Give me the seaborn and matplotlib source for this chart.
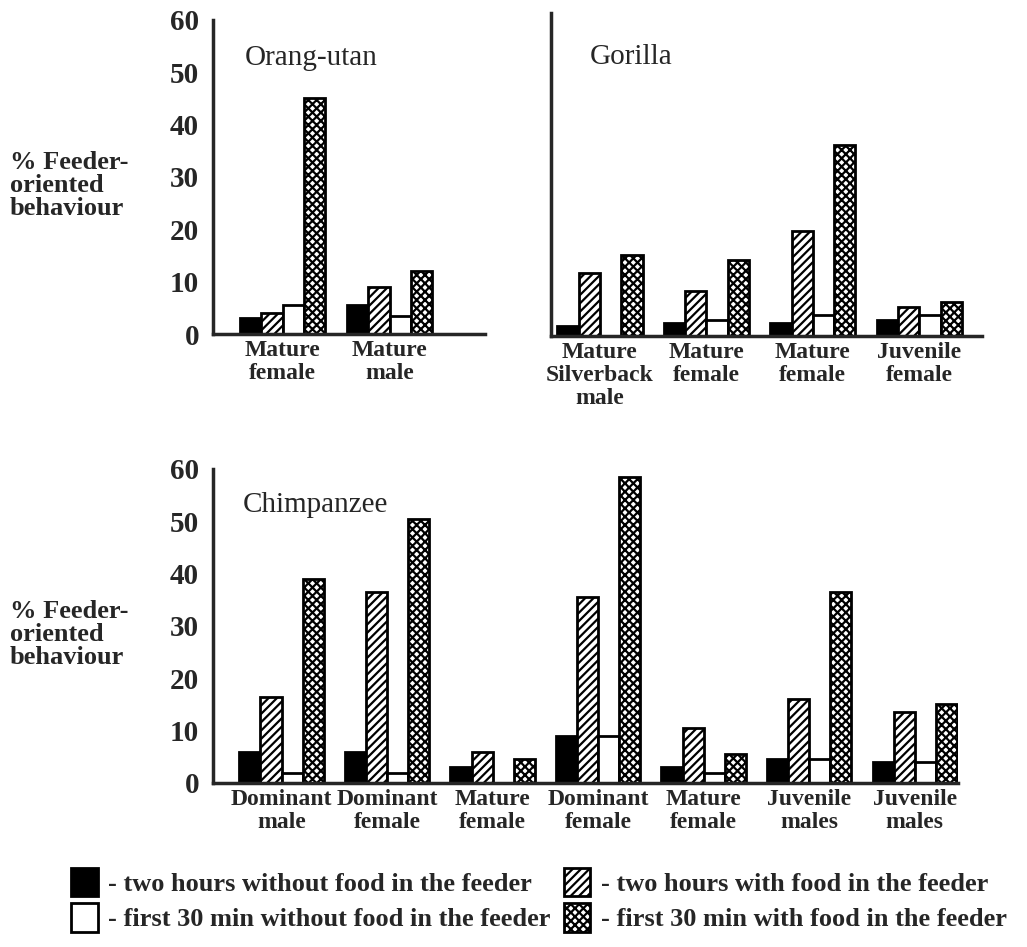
import matplotlib.pyplot as plt
import seaborn as sns
import pandas as pd
from matplotlib.patches import Patch

# ── Data ──────────────────────────────────────────────────────────────────────

conditions = ['two hours without food', 'two hours with food',
              'first 30 min without food', 'first 30 min with food']

orang_labels = ['Mature\nfemale', 'Mature\nmale']
orang_2h_nofood  = [3.0, 5.5]
orang_2h_food    = [4.0, 9.0]
orang_30_nofood  = [5.5, 3.5]
orang_30_food    = [45.0, 12.0]

gorilla_labels = ['Mature\nSilverback\nmale', 'Mature\nfemale', 'Mature\nfemale', 'Juvenile\nfemale']
gorilla_2h_nofood = [2.0, 2.5, 2.5, 3.0]
gorilla_2h_food   = [12.0, 8.5, 20.0, 5.5]
gorilla_30_nofood = [0.0, 3.0, 4.0, 4.0]
gorilla_30_food   = [15.5, 14.5, 36.5, 6.5]

chimp_labels = ['Dominant\nmale', 'Dominant\nfemale', 'Mature\nfemale', 'Dominant\nfemale',
                'Mature\nfemale', 'Juvenile\nmales', 'Juvenile\nmales']
chimp_2h_nofood = [6.0, 6.0, 3.0, 9.0, 3.0, 4.5, 4.0]
chimp_2h_food   = [16.5, 36.5, 6.0, 35.5, 10.5, 16.0, 13.5]
chimp_30_nofood = [2.0, 2.0, 0.0, 9.0, 2.0, 4.5, 4.0]
chimp_30_food   = [39.0, 50.5, 4.5, 58.5, 5.5, 36.5, 15.0]

legend_labels = ['- two hours without food in the feeder',
                 '- first 30 min without food in the feeder',
                 '- two hours with food in the feeder',
                 '- first 30 min with food in the feeder']

fills   = ['black', 'white', 'white', 'white']
hatches = ['', '////', '', 'xxxx']

# ── Style ─────────────────────────────────────────────────────────────────────

sns.set_style('white')
plt.rcParams['font.family'] = ['Liberation Serif', 'DejaVu Serif']
plt.rcParams['font.weight'] = 'bold'
plt.rcParams['hatch.linewidth'] = 1.6
plt.rcParams['axes.linewidth'] = 2.5


def draw_panel(ax, labels, series, title, title_xy, ylim_top, show_ticks):
    rows = []
    for cond, vals in zip(conditions, series):
        for i, v in enumerate(vals):
            rows.append({'pos': i, 'cond': cond, 'value': v})
    df = pd.DataFrame(rows)
    sns.barplot(data=df, x='pos', y='value', hue='cond', hue_order=conditions,
                palette=fills, saturation=1, edgecolor='black', linewidth=2,
                width=0.8, ax=ax, legend=False)
    for cont, h in zip(ax.containers, hatches):
        for bar in cont:
            bar.set_hatch(h)
    sns.despine(ax=ax)
    ax.set_ylim(0, ylim_top)
    ax.set_xlabel('')
    ax.set_ylabel('')
    ax.set_xticks(range(len(labels)))
    ax.set_xticklabels(labels, fontsize=17, fontweight='bold', linespacing=1.15)
    ax.tick_params(axis='x', length=0, pad=4)
    if show_ticks:
        ax.set_yticks([0, 10, 20, 30, 40, 50, 60])
        ax.tick_params(axis='y', length=9, width=2.5, direction='out', labelsize=21, pad=1)
        for t in ax.get_yticklabels():
            t.set_fontweight('bold')
    else:
        ax.set_yticks([])
    ax.text(title_xy[0], title_xy[1], title, transform=ax.transAxes,
            fontsize=21, fontweight='normal', va='center', ha='left')


fig = plt.figure(figsize=(10.27, 9.47), dpi=100)

ax_o = fig.add_axes([0.2074, 0.6473, 0.2648, 0.3316])
draw_panel(ax_o, orang_labels,
           [orang_2h_nofood, orang_2h_food, orang_30_nofood, orang_30_food],
           'Orang-utan', (0.115, 0.88), 60, True)
ax_o.set_xlim(-0.65, 1.89)

ax_g = fig.add_axes([0.5365, 0.6452, 0.4197, 0.3411])
draw_panel(ax_g, gorilla_labels,
           [gorilla_2h_nofood, gorilla_2h_food, gorilla_30_nofood, gorilla_30_food],
           'Gorilla', (0.09, 0.865), 61.7, False)
ax_g.set_xlim(-0.46, 3.59)

ax_c = fig.add_axes([0.2074, 0.1732, 0.7254, 0.3316])
draw_panel(ax_c, chimp_labels,
           [chimp_2h_nofood, chimp_2h_food, chimp_30_nofood, chimp_30_food],
           'Chimpanzee', (0.04, 0.885), 60, True)
ax_c.set_xlim(-0.65, 6.41)

ylab = '% Feeder-\noriented\nbehaviour'
fig.text(10 / 1027, 1 - 151 / 947, ylab, fontsize=19, fontweight='bold',
         va='top', ha='left', linespacing=1.0)
fig.text(10 / 1027, 1 - 600 / 947, ylab, fontsize=19, fontweight='bold',
         va='top', ha='left', linespacing=1.0)

handles = [Patch(facecolor='black', edgecolor='black', linewidth=2),
           Patch(facecolor='white', edgecolor='black', linewidth=2),
           Patch(facecolor='white', edgecolor='black', linewidth=2, hatch='////'),
           Patch(facecolor='white', edgecolor='black', linewidth=2, hatch='xxxx')]
fig.legend(handles, legend_labels, ncol=2, loc='center', bbox_to_anchor=(0.525, 0.05),
           frameon=False, prop={'size': 19, 'weight': 'bold'}, handlelength=1.0,
           handleheight=1.3, columnspacing=0.5, handletextpad=0.4, labelspacing=0.25)

fig.savefig('out.png', dpi=100)
